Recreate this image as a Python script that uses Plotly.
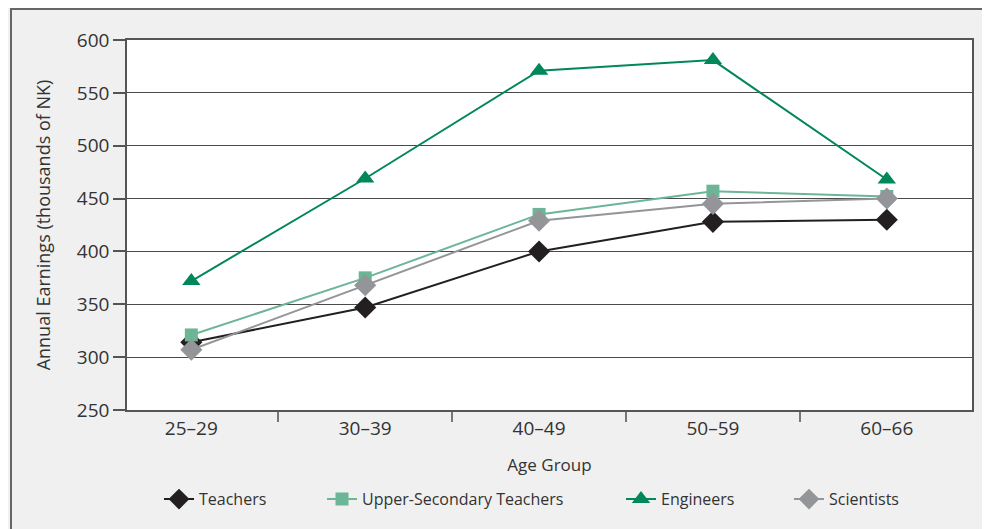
import plotly.graph_objects as go

age_groups = ["25–29", "30–39", "40–49", "50–59", "60–66"]
teachers = [314, 347, 400, 428, 430]
upper_secondary = [321, 375, 435, 457, 452]
engineers = [372, 469, 571, 581, 468]
scientists = [307, 368, 429, 445, 450]

series = [
    ("Teachers", teachers, "#231f20", "diamond", 17),
    ("Upper-Secondary Teachers", upper_secondary, "#6db597", "square", 13),
    ("Engineers", engineers, "#00875a", "triangle-up", 16),
    ("Scientists", scientists, "#939598", "diamond", 17),
]

L, T, PW, PH = 119, 32, 845, 370
W, H = 990, 529

def px_x(page_x):
    return (page_x - 8 - L) / PW

# legend text start positions in the page (pixels)
legend_text_x = [201, 364, 663, 831]
legend_names = ["legend", "legend2", "legend3", "legend4"]

fig = go.Figure()
for (name, vals, color, sym, size), lg in zip(series, legend_names):
    fig.add_trace(go.Scatter(
        x=age_groups, y=vals, name=name, mode="lines+markers",
        line=dict(color=color, width=2),
        marker=dict(symbol=sym, size=size, color=color),
        legend=lg,
    ))

font_family = "Open Sans, Noto Sans, sans-serif"
layout_legends = {}
for lg, tx in zip(legend_names, legend_text_x):
    layout_legends[lg] = dict(
        orientation="h", x=px_x(tx - 42), xanchor="left",
        y=-0.195, yanchor="top",
        font=dict(size=16, color="#333333"), bgcolor="rgba(0,0,0,0)",
    )

fig.update_layout(
    width=W, height=H,
    margin=dict(l=L, r=W - L - PW, t=T, b=H - T - PH),
    paper_bgcolor="#f0f0f0",
    plot_bgcolor="#ffffff",
    font=dict(family=font_family, size=19, color="#333333"),
    showlegend=True,
    **layout_legends,
)
fig.update_xaxes(
    type="category", range=[-0.37, 4.49],
    showgrid=False, showline=True, linecolor="#555555", linewidth=1.5, mirror=True,
    ticks="outside", tickson="boundaries", ticklen=10, tickcolor="#777777", tickwidth=1.5,
    tickfont=dict(size=19, color="#333333"),
    title=dict(text="Age Group", font=dict(size=17, color="#333333"), standoff=20),
)
fig.update_yaxes(
    range=[250, 600], dtick=50,
    showgrid=True, gridcolor="#4a4a4a", gridwidth=1,
    showline=True, linecolor="#555555", linewidth=1.5, mirror=True,
    ticks="outside", ticklen=12, tickcolor="#555555", tickwidth=1.5,
    tickfont=dict(size=19, color="#333333"),
    title=dict(text="Annual Earnings (thousands of NK)", font=dict(size=18, color="#333333"), standoff=22),
    zeroline=False,
)
fig.add_shape(type="rect", xref="paper", yref="paper",
              x0=(3 - L) / PW, x1=1.06, y0=-0.4, y1=(T + PH - 1) / PH,
              line=dict(color="#666666", width=2), layer="below")
fig.write_html("out.html")
